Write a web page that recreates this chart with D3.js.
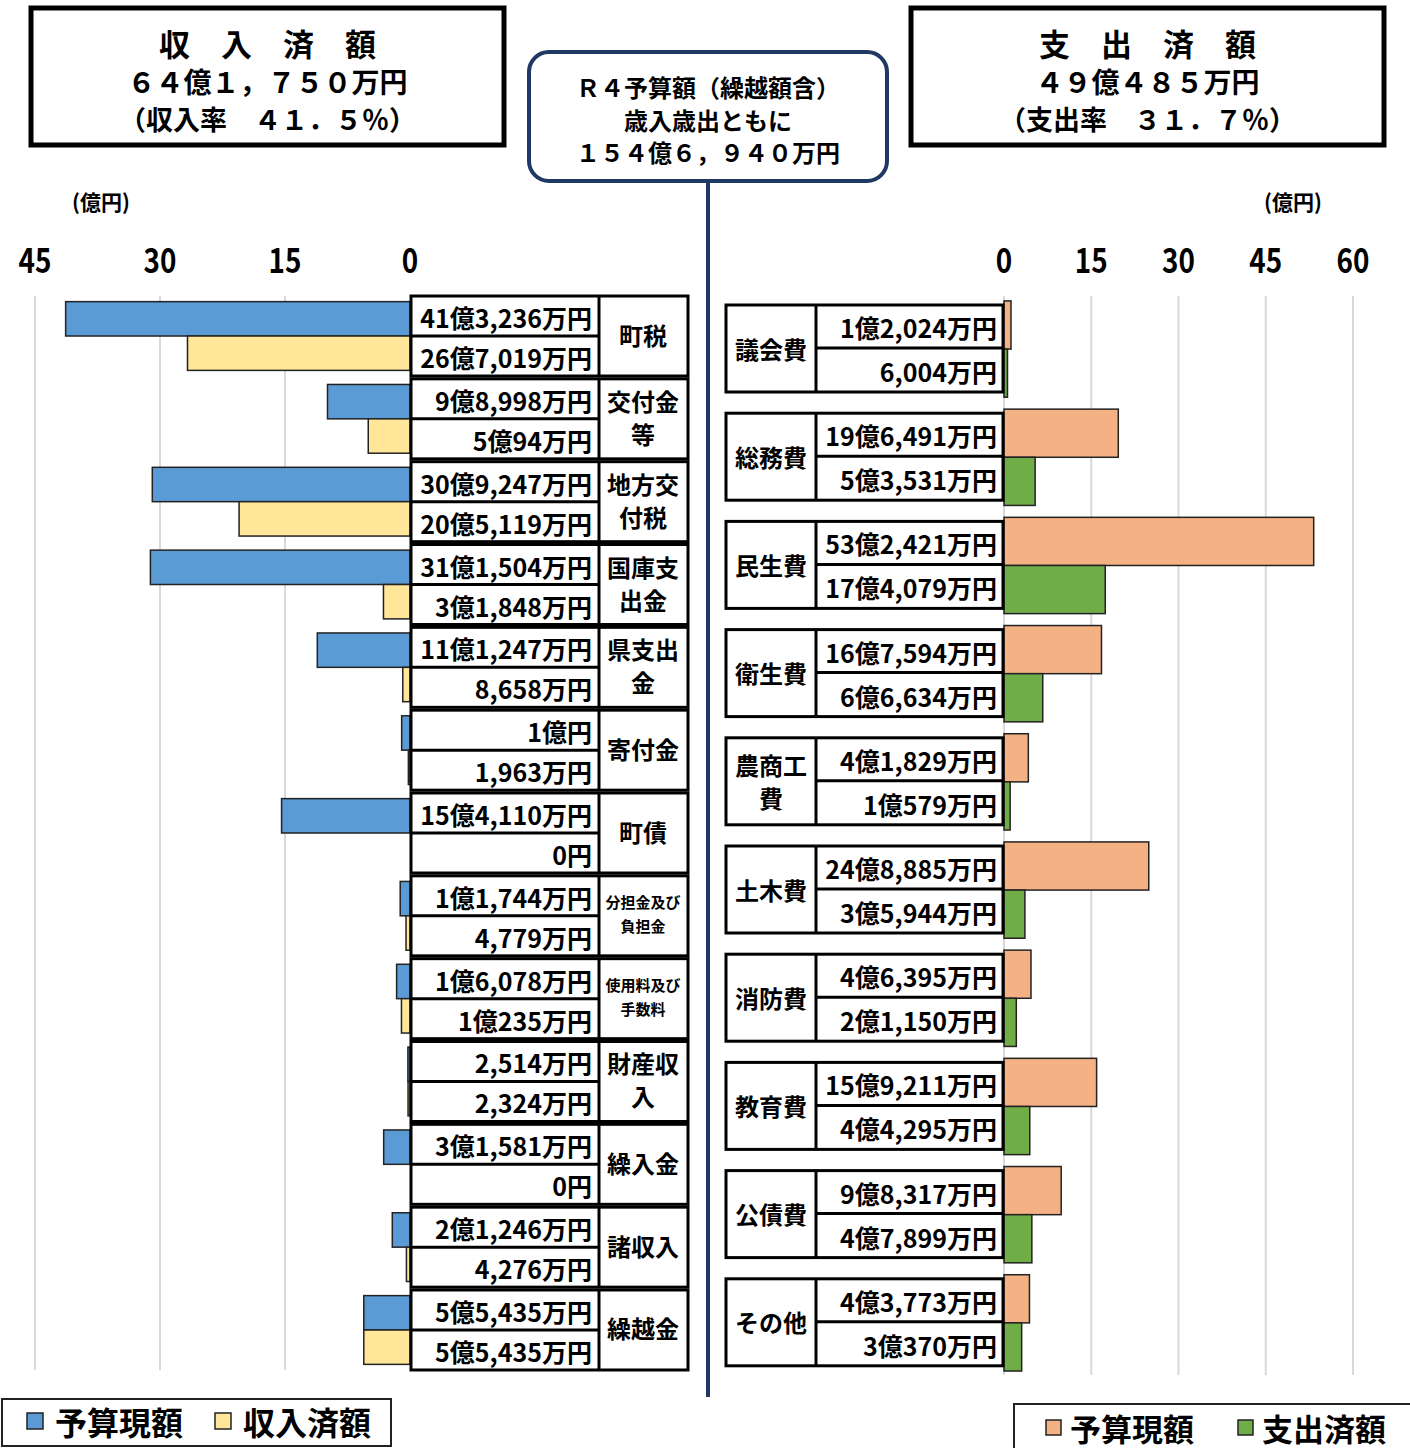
<!DOCTYPE html>
<html><head><meta charset="utf-8">
<script src="https://cdn.jsdelivr.net/npm/d3@7/dist/d3.min.js"></script>
<style>
html,body{margin:0;padding:0;background:#fff;}
svg{display:block;font-family:"Noto Sans CJK JP","Noto Sans",sans-serif;font-weight:700;}
</style></head>
<body><svg id="c" width="1410" height="1448"></svg>
<script>
// ---- Revenue (歳入) ----
const revCategories = ["町税","交付金\n等","地方交\n付税","国庫支\n出金","県支出\n金","寄付金","町債","分担金及び\n負担金","使用料及び\n手数料","財産収\n入","繰入金","諸収入","繰越金"];
const revSmall = [false,false,false,false,false,false,false,true,true,false,false,false,false];
const revBudget = [41.3236, 9.8998, 30.9247, 31.1504, 11.1247, 1.0000, 15.4110, 1.1744, 1.6078, 0.2514, 3.1581, 2.1246, 5.5435];
const revActual = [26.7019, 5.0094, 20.5119, 3.1848, 0.8658, 0.1963, 0, 0.4779, 1.0235, 0.2324, 0, 0.4276, 5.5435];
const revBudgetLabels = ["41億3,236万円","9億8,998万円","30億9,247万円","31億1,504万円","11億1,247万円","1億円","15億4,110万円","1億1,744万円","1億6,078万円","2,514万円","3億1,581万円","2億1,246万円","5億5,435万円"];
const revActualLabels = ["26億7,019万円","5億94万円","20億5,119万円","3億1,848万円","8,658万円","1,963万円","0円","4,779万円","1億235万円","2,324万円","0円","4,276万円","5億5,435万円"];
const revTicks = [0, 15, 30, 45];

// ---- Expenditure (歳出) ----
const expCategories = ["議会費","総務費","民生費","衛生費","農商工\n費","土木費","消防費","教育費","公債費","その他"];
const expBudget = [1.2024, 19.6491, 53.2421, 16.7594, 4.1829, 24.8885, 4.6395, 15.9211, 9.8317, 4.3773];
const expActual = [0.6004, 5.3531, 17.4079, 6.6634, 1.0579, 3.5944, 2.1150, 4.4295, 4.7899, 3.0370];
const expBudgetLabels = ["1億2,024万円","19億6,491万円","53億2,421万円","16億7,594万円","4億1,829万円","24億8,885万円","4億6,395万円","15億9,211万円","9億8,317万円","4億3,773万円"];
const expActualLabels = ["6,004万円","5億3,531万円","17億4,079万円","6億6,634万円","1億579万円","3億5,944万円","2億1,150万円","4億4,295万円","4億7,899万円","3億370万円"];
const expTicks = [0, 15, 30, 45, 60];

// ---- Header texts ----
const leftBoxLines = ["収　入　済　額","６４億１，７５０万円","（収入率　４１．５％）"];
const centerBoxLines = ["Ｒ４予算額（繰越額含）","歳入歳出ともに","１５４億６，９４０万円"];
const rightBoxLines = ["支　出　済　額","４９億４８５万円","（支出率　３１．７％）"];
const revLegend = ["予算現額","収入済額"];
const expLegend = ["予算現額","支出済額"];

const C = {blue:"#5B9BD5", yellow:"#FFE699", orange:"#F4B183", green:"#70AD47", navy:"#1F3864", grid:"#D9D9D9"};

const svg = d3.select("#c");

// ---------- header boxes ----------
function headerBox(x, y, w, h, lines, sizes, ys){
  svg.append("rect").attr("x",x).attr("y",y).attr("width",w).attr("height",h)
    .attr("fill","#fff").attr("stroke","#000").attr("stroke-width",5);
  lines.forEach((t,i)=>{
    svg.append("text").attr("x",x+w/2).attr("y",ys[i]).attr("text-anchor","middle")
      .attr("dominant-baseline","central").attr("font-size",sizes[i]).text(t);
  });
}
headerBox(31, 8, 473, 137, leftBoxLines, [31,28,27], [42,81,118]);
headerBox(911, 8, 473, 137, rightBoxLines, [31,28,27], [42,81,118]);

// central line & box
svg.append("line").attr("x1",708).attr("x2",708).attr("y1",180).attr("y2",1397)
  .attr("stroke",C.navy).attr("stroke-width",4);
svg.append("rect").attr("x",529).attr("y",52).attr("width",358).attr("height",129).attr("rx",20)
  .attr("fill","#fff").attr("stroke",C.navy).attr("stroke-width",4);
centerBoxLines.forEach((t,i)=>{
  svg.append("text").attr("x",708).attr("y",[86,119,151][i]).attr("text-anchor","middle")
    .attr("dominant-baseline","central").attr("font-size",24).text(t);
});

// unit labels
svg.append("text").attr("x",101).attr("y",201).attr("text-anchor","middle").attr("dominant-baseline","central").attr("font-size",21).text("(億円)");
svg.append("text").attr("x",1293).attr("y",201).attr("text-anchor","middle").attr("dominant-baseline","central").attr("font-size",21).text("(億円)");

function condensed(g, x, y, txt, size, sx, anchor){
  return g.append("text").attr("transform",`translate(${x},${y}) scale(${sx},1)`)
    .attr("text-anchor",anchor).attr("dominant-baseline","central").attr("font-size",size).text(txt);
}

// ---------- LEFT (revenue) ----------
const xL = d3.scaleLinear().domain([0,45]).range([410,35]);
const yL = d3.scaleBand().domain(revCategories.map((d,i)=>i)).range([294.6, 1371.4]).padding(0);
const subL = d3.scaleBand().domain(["b","a"]).range([yL.step()*0.085, yL.step()*0.915]);

const gL = svg.append("g");
revTicks.filter(t=>t>0).forEach(t=>{
  gL.append("line").attr("x1",xL(t)).attr("x2",xL(t)).attr("y1",296).attr("y2",1370)
    .attr("stroke",C.grid).attr("stroke-width",2);
});
revTicks.forEach(t=> condensed(gL, xL(t), 258, String(t), 34, 0.82, "middle"));

revCategories.forEach((c,i)=>{
  const y0 = yL(i);
  gL.append("rect").attr("x",xL(revBudget[i])).attr("y",y0+subL("b"))
    .attr("width",xL(0)-xL(revBudget[i])).attr("height",subL.bandwidth())
    .attr("fill",C.blue).attr("stroke","#222").attr("stroke-width",1.5);
  gL.append("rect").attr("x",xL(revActual[i])).attr("y",y0+subL("a"))
    .attr("width",xL(0)-xL(revActual[i])).attr("height",subL.bandwidth())
    .attr("fill",C.yellow).attr("stroke","#222").attr("stroke-width",1.5);
});

// table
revCategories.forEach((c,i)=>{
  const cy = yL(i) + yL.bandwidth()/2;
  const top = cy-40, bot = cy+40;
  const g = gL.append("g");
  g.append("rect").attr("x",411).attr("y",top).attr("width",277).attr("height",bot-top)
    .attr("fill","#fff").attr("stroke","#000").attr("stroke-width",3);
  g.append("line").attr("x1",599).attr("x2",599).attr("y1",top).attr("y2",bot).attr("stroke","#000").attr("stroke-width",3);
  g.append("line").attr("x1",411).attr("x2",599).attr("y1",cy).attr("y2",cy).attr("stroke","#000").attr("stroke-width",3);
  condensed(g, 592, cy-19, revBudgetLabels[i], 25, 1, "end");
  condensed(g, 592, cy+21, revActualLabels[i], 25, 1, "end");
  const parts = c.split("\n");
  const fs = revSmall[i] ? 15 : 24;
  const lh = revSmall[i] ? 24 : 33;
  parts.forEach((p,k)=>{
    g.append("text").attr("x",643).attr("y",cy + (k-(parts.length-1)/2)*lh - 2)
      .attr("text-anchor","middle").attr("dominant-baseline","central").attr("font-size",fs).text(p);
  });
});

// ---------- RIGHT (expenditure) ----------
const xR = d3.scaleLinear().domain([0,60]).range([1004,1353]);
const yR = d3.scaleBand().domain(expCategories.map((d,i)=>i)).range([293.9, 293.9+108.2*10]).padding(0);
const subR = d3.scaleBand().domain(["b","a"]).range([yR.step()*0.065, yR.step()*0.955]);
const gR = svg.append("g");
expTicks.forEach(t=>{
  gR.append("line").attr("x1",xR(t)).attr("x2",xR(t)).attr("y1",296).attr("y2",1375)
    .attr("stroke",C.grid).attr("stroke-width",2);
  condensed(gR, xR(t), 258, String(t), 34, 0.82, "middle");
});
expCategories.forEach((c,i)=>{
  const y0 = yR(i);
  gR.append("rect").attr("x",xR(0)).attr("y",y0+subR("b"))
    .attr("width",xR(expBudget[i])-xR(0)).attr("height",subR.bandwidth())
    .attr("fill",C.orange).attr("stroke","#222").attr("stroke-width",1.5);
  gR.append("rect").attr("x",xR(0)).attr("y",y0+subR("a"))
    .attr("width",xR(expActual[i])-xR(0)).attr("height",subR.bandwidth())
    .attr("fill",C.green).attr("stroke","#222").attr("stroke-width",1.5);
});
expCategories.forEach((c,i)=>{
  const cy = yR(i) + yR.bandwidth()/2;
  const top = cy-43, bot = cy+44;
  const g = gR.append("g");
  g.append("rect").attr("x",726).attr("y",top).attr("width",277).attr("height",bot-top)
    .attr("fill","#fff").attr("stroke","#000").attr("stroke-width",3);
  g.append("line").attr("x1",816).attr("x2",816).attr("y1",top).attr("y2",bot).attr("stroke","#000").attr("stroke-width",3);
  g.append("line").attr("x1",816).attr("x2",1003).attr("y1",cy).attr("y2",cy).attr("stroke","#000").attr("stroke-width",3);
  condensed(g, 997, cy-21, expBudgetLabels[i], 25, 1, "end");
  condensed(g, 997, cy+23, expActualLabels[i], 25, 1, "end");
  const parts = c.split("\n");
  parts.forEach((p,k)=>{
    g.append("text").attr("x",771).attr("y",cy + (k-(parts.length-1)/2)*33)
      .attr("text-anchor","middle").attr("dominant-baseline","central").attr("font-size",24).text(p);
  });
});

// ---------- legends ----------
svg.append("rect").attr("x",2).attr("y",1399).attr("width",389).attr("height",47)
  .attr("fill","#fff").attr("stroke","#222").attr("stroke-width",2);
[[C.blue,27,55],[C.yellow,215,243]].forEach((d,i)=>{
  svg.append("rect").attr("x",d[1]).attr("y",1413).attr("width",16).attr("height",16)
    .attr("fill",d[0]).attr("stroke","#222").attr("stroke-width",1.5);
  svg.append("text").attr("x",d[2]).attr("y",1421).attr("dominant-baseline","central").attr("font-size",32).text(revLegend[i]);
});
svg.append("rect").attr("x",1014).attr("y",1404).attr("width",400).attr("height",50)
  .attr("fill","#fff").attr("stroke","#222").attr("stroke-width",2);
[[C.orange,1046,1070],[C.green,1238,1262]].forEach((d,i)=>{
  svg.append("rect").attr("x",d[1]).attr("y",1420).attr("width",15).attr("height",15)
    .attr("fill",d[0]).attr("stroke","#222").attr("stroke-width",1.5);
  svg.append("text").attr("x",d[2]).attr("y",1427).attr("dominant-baseline","central").attr("font-size",31).text(expLegend[i]);
});
</script></body></html>
